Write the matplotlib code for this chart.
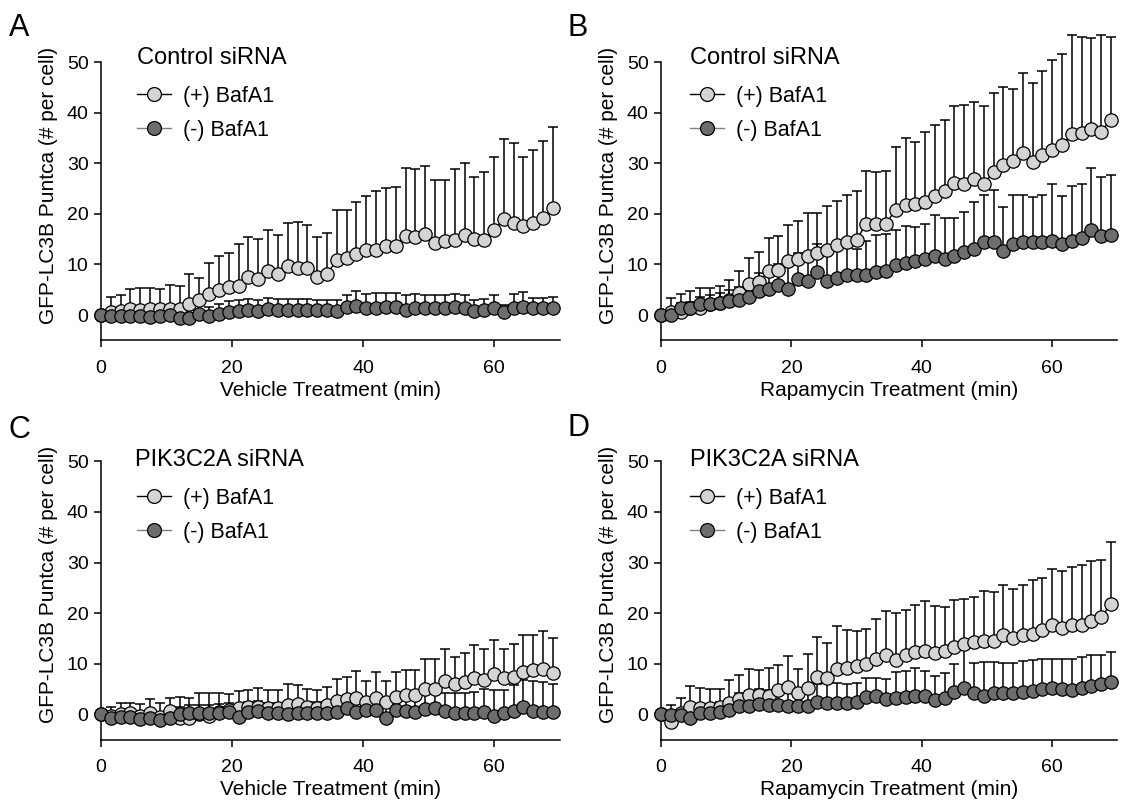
import matplotlib
matplotlib.use("Agg")
import matplotlib.pyplot as plt
from matplotlib.lines import Line2D
import numpy as np

plt.rcParams['font.family'] = ['Liberation Sans', 'DejaVu Sans']

time_min = [0, 1.5, 3, 4.5, 6, 7.5, 9, 10.5, 12, 13.5, 15, 16.5, 18, 19.5, 21, 22.5,
            24, 25.5, 27, 28.5, 30, 31.5, 33, 34.5, 36, 37.5, 39, 40.5, 42, 43.5, 45,
            46.5, 48, 49.5, 51, 52.5, 54, 55.5, 57, 58.5, 60, 61.5, 63, 64.5, 66, 67.5, 69]

A_plus = [0, 0.5, 0.7, 1.2, 0.9, 1.2, 1.2, 1.2, 1.2, 2.2, 2.9, 4.1, 4.9, 5.6, 5.8, 7.6,
          7.1, 8.8, 8.2, 9.7, 9.4, 9.4, 7.5, 8.2, 10.8, 11.3, 12.0, 12.8, 12.8, 13.6, 13.6,
          15.6, 15.4, 16.1, 14.3, 14.7, 14.9, 15.8, 15.1, 14.9, 16.9, 19.0, 18.2, 17.6, 18.2, 19.2, 21.2]
A_plus_err = [0, 3.1, 3.2, 4.0, 4.5, 4.2, 3.9, 4.8, 4.6, 6.0, 4.5, 6.2, 6.7, 6.7, 8.3, 7.9,
              7.9, 8.0, 7.7, 8.5, 9.0, 8.4, 8.0, 8.0, 10.0, 9.4, 10.4, 10.8, 11.7, 11.6, 11.7,
              13.4, 13.4, 13.3, 12.5, 12.1, 13.9, 14.2, 12.2, 13.4, 14.3, 15.9, 15.9, 13.7, 14.4, 15.2, 16.0]
A_minus = [0, -0.1, -0.2, -0.2, -0.2, -0.3, -0.2, 0, -0.5, -0.5, 0.3, -0.2, 0.2, 0.5, 0.7, 1.0,
           0.7, 1.1, 1.0, 1.0, 1.0, 1.0, 0.9, 1.0, 0.7, 1.5, 1.8, 1.3, 1.4, 1.5, 1.5,
           0.9, 1.4, 1.3, 1.3, 1.3, 1.5, 1.3, 0.7, 1.0, 1.3, 0.5, 1.3, 1.6, 1.3, 1.3, 1.3]
A_minus_err = [0, 0.8, 0.8, 0.8, 1.0, 1.0, 1.0, 1.2, 1.2, 1.5, 1.6, 1.8, 2.0, 2.2, 2.2, 2.2,
               2.3, 2.2, 2.2, 2.2, 2.2, 2.1, 2.0, 2.0, 2.2, 2.5, 2.9, 2.9, 2.9, 2.9, 2.9,
               3.0, 2.7, 2.6, 2.6, 2.6, 2.7, 2.6, 2.2, 2.2, 2.6, 1.5, 2.9, 3.0, 2.0, 2.0, 2.3]

B_plus = [0, 0.65, 0.65, 1.4, 1.4, 2.1, 2.4, 2.9, 4.4, 6.2, 6.5, 8.8, 9.0, 10.7, 11.1, 11.6,
          12.2, 12.9, 13.9, 14.5, 14.9, 18.1, 18.1, 18.1, 20.8, 21.7, 21.9, 22.4, 23.6, 24.5, 26.2,
          26.0, 27.0, 26.0, 28.2, 29.7, 30.4, 32.1, 30.3, 31.6, 32.7, 33.7, 35.8, 36.1, 36.8, 36.3, 38.6]
B_plus_err = [0, 2.8, 3.5, 3.3, 3.9, 3.3, 3.3, 4.1, 4.3, 5.1, 5.9, 6.5, 6.7, 7.1, 7.5, 8.5,
              7.9, 8.7, 8.6, 9.2, 9.6, 10.3, 10.1, 10.3, 12.4, 13.4, 12.4, 13.9, 14.0, 14.1, 15.2,
              15.5, 15.1, 15.4, 15.7, 15.5, 14.4, 15.7, 15.6, 16.6, 17.7, 18.0, 19.5, 18.8, 17.9, 19.0, 16.4]
B_minus = [0, 0, 1.3, 1.4, 2.1, 2.2, 2.4, 2.7, 3.0, 3.5, 4.8, 5.2, 5.9, 5.2, 7.2, 6.8,
           8.5, 6.8, 7.3, 8.0, 7.9, 7.9, 8.5, 8.7, 9.8, 10.3, 10.7, 11.1, 11.6, 11.1, 11.6,
           12.4, 13.1, 14.4, 14.4, 12.6, 14.0, 14.4, 14.5, 14.4, 14.7, 14.0, 14.7, 15.3, 16.8, 15.6, 15.8]
B_minus_err = [0, 0.5, 1.0, 1.2, 1.5, 1.8, 2.0, 2.3, 2.6, 3.0, 3.5, 3.8, 4.2, 4.5, 5.0, 5.2,
               5.5, 6.4, 6.5, 5.2, 5.2, 6.8, 7.3, 7.3, 7.0, 7.3, 6.7, 7.0, 8.1, 8.0, 7.5,
               8.0, 9.3, 9.3, 10.3, 8.8, 9.8, 9.3, 8.8, 9.3, 11.3, 9.5, 10.9, 10.7, 12.2, 11.7, 11.8]

C_plus = [0, -0.3, 0, 0.2, -0.3, 0.2, -0.5, 0.7, -0.8, -0.8, 0, -0.3, 0.4, 0.9, 1.3, 1.5,
          1.5, 1.2, 1.3, 1.8, 2.0, 1.5, 1.2, 1.8, 2.6, 3.0, 3.3, 2.4, 3.3, 2.4, 3.5,
          3.8, 3.8, 5.0, 5.0, 6.6, 5.9, 6.4, 7.1, 6.8, 7.9, 7.1, 7.4, 8.4, 8.7, 9.0, 8.1]
C_plus_err = [0, 1.8, 2.3, 2.0, 2.3, 2.8, 2.7, 2.6, 4.3, 4.1, 4.1, 4.4, 3.7, 3.1, 3.3, 3.3,
              3.6, 3.6, 3.5, 4.1, 3.8, 3.5, 3.6, 3.6, 4.3, 4.4, 5.2, 4.2, 5.1, 4.2, 4.8,
              5.0, 4.9, 5.9, 5.9, 6.4, 5.4, 5.8, 6.6, 6.1, 6.7, 5.8, 6.4, 7.3, 7.0, 7.4, 6.9]
C_minus = [0, -0.7, -0.5, -0.5, -0.9, -0.7, -1.1, -0.8, 0, 0.2, 0.2, 0.2, 0.2, 0.4, -0.5, 0.4,
           0.7, 0.2, 0.2, 0, 0.2, 0.2, 0.2, 0.2, 0.4, 1.3, 0.5, 0.9, 0.9, -0.7, 0.9,
           0.7, 0.4, 1.0, 1.3, 0.7, 0.2, 0.2, 0.2, 0.4, -0.3, 0.2, 0.7, 1.5, 0.7, 0.5, 0.4]
C_minus_err = [0, 0.8, 1.0, 1.2, 1.2, 1.3, 1.4, 1.5, 1.5, 1.6, 1.6, 1.7, 1.8, 1.8, 2.0, 2.0,
               2.0, 2.0, 2.1, 2.2, 2.2, 2.2, 2.3, 2.3, 2.4, 2.5, 2.5, 2.6, 2.6, 2.8, 2.8,
               3.0, 3.0, 3.2, 3.2, 3.5, 3.9, 4.0, 4.2, 4.5, 5.0, 4.6, 5.0, 5.2, 5.8, 5.9, 5.5]

D_plus = [0, -1.6, 0.2, 1.5, 1.2, 1.3, 1.5, 2.2, 3.1, 3.8, 3.8, 3.7, 4.8, 5.4, 4.1, 5.2,
          7.4, 7.2, 8.9, 9.2, 9.6, 10.0, 10.9, 11.7, 10.7, 11.7, 12.4, 12.6, 12.2, 12.6, 13.3,
          13.8, 14.3, 14.4, 14.4, 15.6, 15.1, 15.6, 15.9, 16.6, 17.7, 17.0, 17.6, 17.7, 18.5, 19.2, 21.8]
D_plus_err = [0, 3.4, 3.1, 4.1, 3.9, 3.7, 3.5, 4.6, 4.7, 5.2, 4.9, 5.5, 4.9, 6.1, 4.9, 6.7,
              7.9, 6.9, 8.5, 7.4, 6.8, 6.9, 8.0, 8.7, 9.3, 9.0, 9.3, 9.8, 9.3, 8.7, 9.2,
              9.0, 8.8, 9.9, 9.7, 10.0, 9.6, 10.0, 10.7, 10.3, 11.1, 11.3, 11.5, 11.9, 11.8, 11.3, 12.3]
D_minus = [0, -0.1, -0.1, -0.7, 0.2, 0.2, 0.4, 0.9, 1.7, 1.7, 2.0, 1.8, 1.8, 1.7, 1.7, 1.7,
           2.4, 2.2, 2.2, 2.2, 2.5, 3.5, 3.7, 3.1, 3.3, 3.5, 3.7, 3.7, 2.8, 3.3, 4.3,
           5.1, 4.1, 3.7, 4.1, 4.1, 4.1, 4.3, 4.6, 5.0, 5.1, 5.0, 4.8, 5.2, 5.6, 5.9, 6.4]
D_minus_err = [0, 0.8, 1.0, 1.2, 1.5, 1.8, 2.0, 2.2, 2.5, 2.8, 3.0, 3.0, 3.2, 3.3, 3.4, 3.5,
               3.6, 3.9, 3.9, 3.7, 3.6, 3.7, 3.5, 3.8, 5.1, 5.0, 5.4, 4.8, 4.8, 4.8, 5.7,
               9.2, 6.1, 6.6, 6.2, 6.1, 6.1, 6.2, 6.1, 5.9, 5.8, 5.9, 6.1, 6.1, 6.2, 5.9, 5.9]

panel_letters = ["A", "B", "C", "D"]
panel_titles = ["Control siRNA", "Control siRNA", "PIK3C2A siRNA", "PIK3C2A siRNA"]
x_labels = ["Vehicle Treatment (min)", "Rapamycin Treatment (min)",
            "Vehicle Treatment (min)", "Rapamycin Treatment (min)"]
y_label = "GFP-LC3B Puntca (# per cell)"
series_labels = ["(+) BafA1", "(-) BafA1"]
x_ticks = [0, 20, 40, 60]
y_ticks = [0, 10, 20, 30, 40, 50]

panels = [
    (A_plus, A_plus_err, A_minus, A_minus_err),
    (B_plus, B_plus_err, B_minus, B_minus_err),
    (C_plus, C_plus_err, C_minus, C_minus_err),
    (D_plus, D_plus_err, D_minus, D_minus_err),
]

W, H = 1126, 801
fig = plt.figure(figsize=(W / 100, H / 100), dpi=100)

ax_rects = [
    [101 / W, 1 - 340.3 / H, 458.5 / W, 309.4 / H],
    [661 / W, 1 - 340.3 / H, 456.4 / W, 309.4 / H],
    [101 / W, 1 - 739.5 / H, 458.5 / W, 309.4 / H],
    [661 / W, 1 - 739.5 / H, 456.4 / W, 309.4 / H],
]
letter_pos = [(9, 36), (568, 36), (9, 438), (568, 436)]
title_pos = [(137, 64), (690, 64), (135, 466), (690, 466)]
legend_pos = [(137, 86), (690, 86), (137, 488), (690, 488)]

light = "#d4d4d4"
dark = "#6d6d6d"
t = np.array(time_min)

for i, (yp, ep, ym, em) in enumerate(panels):
    ax = fig.add_axes(ax_rects[i])
    yp = np.array(yp); ep = np.array(ep); ym = np.array(ym); em = np.array(em)

    for y, e in ((yp, ep), (ym, em)):
        eb = ax.errorbar(t, y, yerr=[np.zeros_like(e), e], fmt='none', ecolor='black',
                         elinewidth=1.1, capsize=3.5, capthick=1.1, zorder=2)
        for art in list(eb.lines[1]) + list(eb.lines[2]):
            art.set_clip_on(False)

    ax.plot(t, yp, marker='o', ms=9.6, mfc=light, mec='black', mew=0.9,
            color='black', lw=1.0, zorder=3, clip_on=False)
    ax.plot(t, ym, marker='o', ms=9.6, mfc=dark, mec='black', mew=0.9,
            color='#808080', lw=1.0, zorder=4, clip_on=False)

    ax.set_xlim(0, 70)
    ax.set_ylim(-5, 56.2)
    ax.set_xticks(x_ticks)
    ax.set_yticks(y_ticks)
    for s in ("top", "right"):
        ax.spines[s].set_visible(False)
    ax.spines['left'].set_bounds(-5, 50)
    ax.spines['bottom'].set_bounds(0, 70)
    for s in ("left", "bottom"):
        ax.spines[s].set_linewidth(1.1)
    ax.tick_params(direction='out', length=5, width=1.1, labelsize=14, pad=4)
    ax.tick_params(axis='x', pad=9)
    ax.set_xlabel(x_labels[i], fontsize=15, labelpad=3)
    ax.set_ylabel(y_label, fontsize=15, labelpad=6)

    lx, ly = letter_pos[i]
    fig.text(lx / W, 1 - ly / H, panel_letters[i], fontsize=22, va='baseline', ha='left')
    tx, ty = title_pos[i]
    fig.text(tx / W, 1 - ty / H, panel_titles[i], fontsize=17, va='baseline', ha='left')

    h1 = Line2D([], [], marker='o', ms=10, mfc=light, mec='black', mew=0.9, color='black', lw=1.0)
    h2 = Line2D([], [], marker='o', ms=10, mfc=dark, mec='black', mew=0.9, color='#808080', lw=1.0)
    gx, gy = legend_pos[i]
    ax.legend([h1, h2], series_labels, loc='upper left',
              bbox_to_anchor=(gx / W, 1 - gy / H), bbox_transform=fig.transFigure,
              frameon=False, fontsize=15.5, borderpad=0, borderaxespad=0,
              handlelength=1.6, handletextpad=0.55, labelspacing=0.6)

fig.savefig("out.png", dpi=100)
